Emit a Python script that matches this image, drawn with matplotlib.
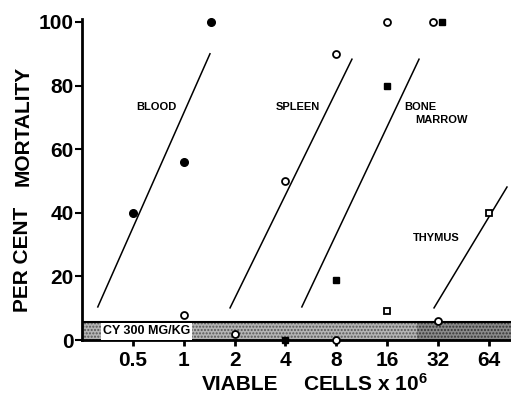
import matplotlib
matplotlib.use("Agg")
import matplotlib.pyplot as plt

# data (cells x 10^6, per cent mortality)
blood_x = [0.5, 1, 1.45]
blood_y = [40, 56, 100]
spleen_x = [1, 2, 4, 8, 16, 30]
spleen_y = [8, 2, 50, 90, 100, 100]
marrow_x = [4, 8, 16, 34]
marrow_y = [0, 19, 80, 100]
thymus_x = [16, 64]
thymus_y = [9, 40]
other_x = [8, 32]
other_y = [0, 6]

# fitted lines (end points)
blood_line_x = [0.31, 1.43]
blood_line_y = [10.4, 90]
spleen_line_x = [1.88, 9.9]
spleen_line_y = [10.1, 88.3]
marrow_line_x = [5.0, 24.7]
marrow_line_y = [10.4, 88.3]
thymus_line_x = [30.3, 81.9]
thymus_line_y = [10.1, 48.1]

xticks = [0.5, 1, 2, 4, 8, 16, 32, 64]
xlabels = ["0.5", "1", "2", "4", "8", "16", "32", "64"]
yticks = [0, 20, 40, 60, 80, 100]

plt.rcParams['font.family'] = ['Liberation Sans', 'DejaVu Sans']
plt.rcParams['font.weight'] = 'bold'
plt.rcParams['mathtext.default'] = 'regular'
plt.rcParams['hatch.linewidth'] = 1.0

fig = plt.figure(figsize=(5.11, 4.0), dpi=100)
ax = fig.add_axes([0.1605, 0.15, 0.8395, 0.803])
ax.set_xscale('log', base=2)
ax.set_xlim(0.25, 86.5)
ax.set_ylim(0, 101)

# treatment band along the bottom (stippled)
ax.axhspan(0, 5.8, xmin=0, xmax=0.78, facecolor='#b4b4b4', edgecolor='#555555',
           hatch='.....', lw=0, zorder=1)
ax.axhspan(0, 5.8, xmin=0.78, xmax=1, facecolor='#8a8a8a', edgecolor='#333333',
           hatch='.....', lw=0, zorder=1)
ax.axhline(5.8, color='black', lw=1.5, zorder=2)
ax.text(0.6, 2.7, "CY 300 MG/KG", fontsize=9, ha='center', va='center', zorder=3,
        bbox=dict(facecolor='white', edgecolor='none', pad=1.5))

lk = dict(color='black', lw=1.1, zorder=2)
ax.plot(blood_line_x, blood_line_y, **lk)
ax.plot(spleen_line_x, spleen_line_y, **lk)
ax.plot(marrow_line_x, marrow_line_y, **lk)
ax.plot(thymus_line_x, thymus_line_y, **lk)

ax.plot(blood_x, blood_y, 'o', ms=5.5, mfc='black', mec='black', clip_on=False, zorder=4)
ax.plot(spleen_x, spleen_y, 'o', ms=5, mfc='white', mec='black', mew=1.3, clip_on=False, zorder=4)
ax.plot(other_x, other_y, 'o', ms=5, mfc='white', mec='black', mew=1.3, clip_on=False, zorder=4)
ax.plot(marrow_x, marrow_y, 's', ms=4.5, mfc='black', mec='black', clip_on=False, zorder=4)
ax.plot(thymus_x, thymus_y, 's', ms=4, mfc='white', mec='black', mew=1.3, clip_on=False, zorder=4)

tk = dict(fontsize=8, va='center')
ax.text(0.686, 73.3, "BLOOD", ha='center', **tk)
ax.text(4.71, 73.3, "SPLEEN", ha='center', **tk)
ax.text(20.1, 73.3, "BONE", ha='left', **tk)
ax.text(23.4, 69.2, "MARROW", ha='left', **tk)
ax.text(31.3, 32.1, "THYMUS", ha='center', **tk)

ax.set_xticks(xticks)
ax.set_xticklabels(xlabels)
ax.minorticks_off()
ax.set_yticks(yticks)
ax.tick_params(axis='y', direction='out', length=5, width=1.5, pad=1, labelsize=15)
ax.tick_params(axis='x', direction='out', length=4, width=2, pad=4, labelsize=15)
for s in ['top', 'right']:
    ax.spines[s].set_visible(False)
for s in ['left', 'bottom']:
    ax.spines[s].set_linewidth(2)

fig.text(0.045, 0.685, "MORTALITY", rotation=90, fontsize=15, ha='center', va='center')
fig.text(0.045, 0.3525, "PER CENT", rotation=90, fontsize=15, ha='center', va='center')
fig.text(0.469, 0.04, "VIABLE", fontsize=15, ha='center', va='center')
fig.text(0.593, 0.04, "CELLS x 10$^6$", fontsize=15, ha='left', va='center')

fig.savefig("out.png", dpi=100)
